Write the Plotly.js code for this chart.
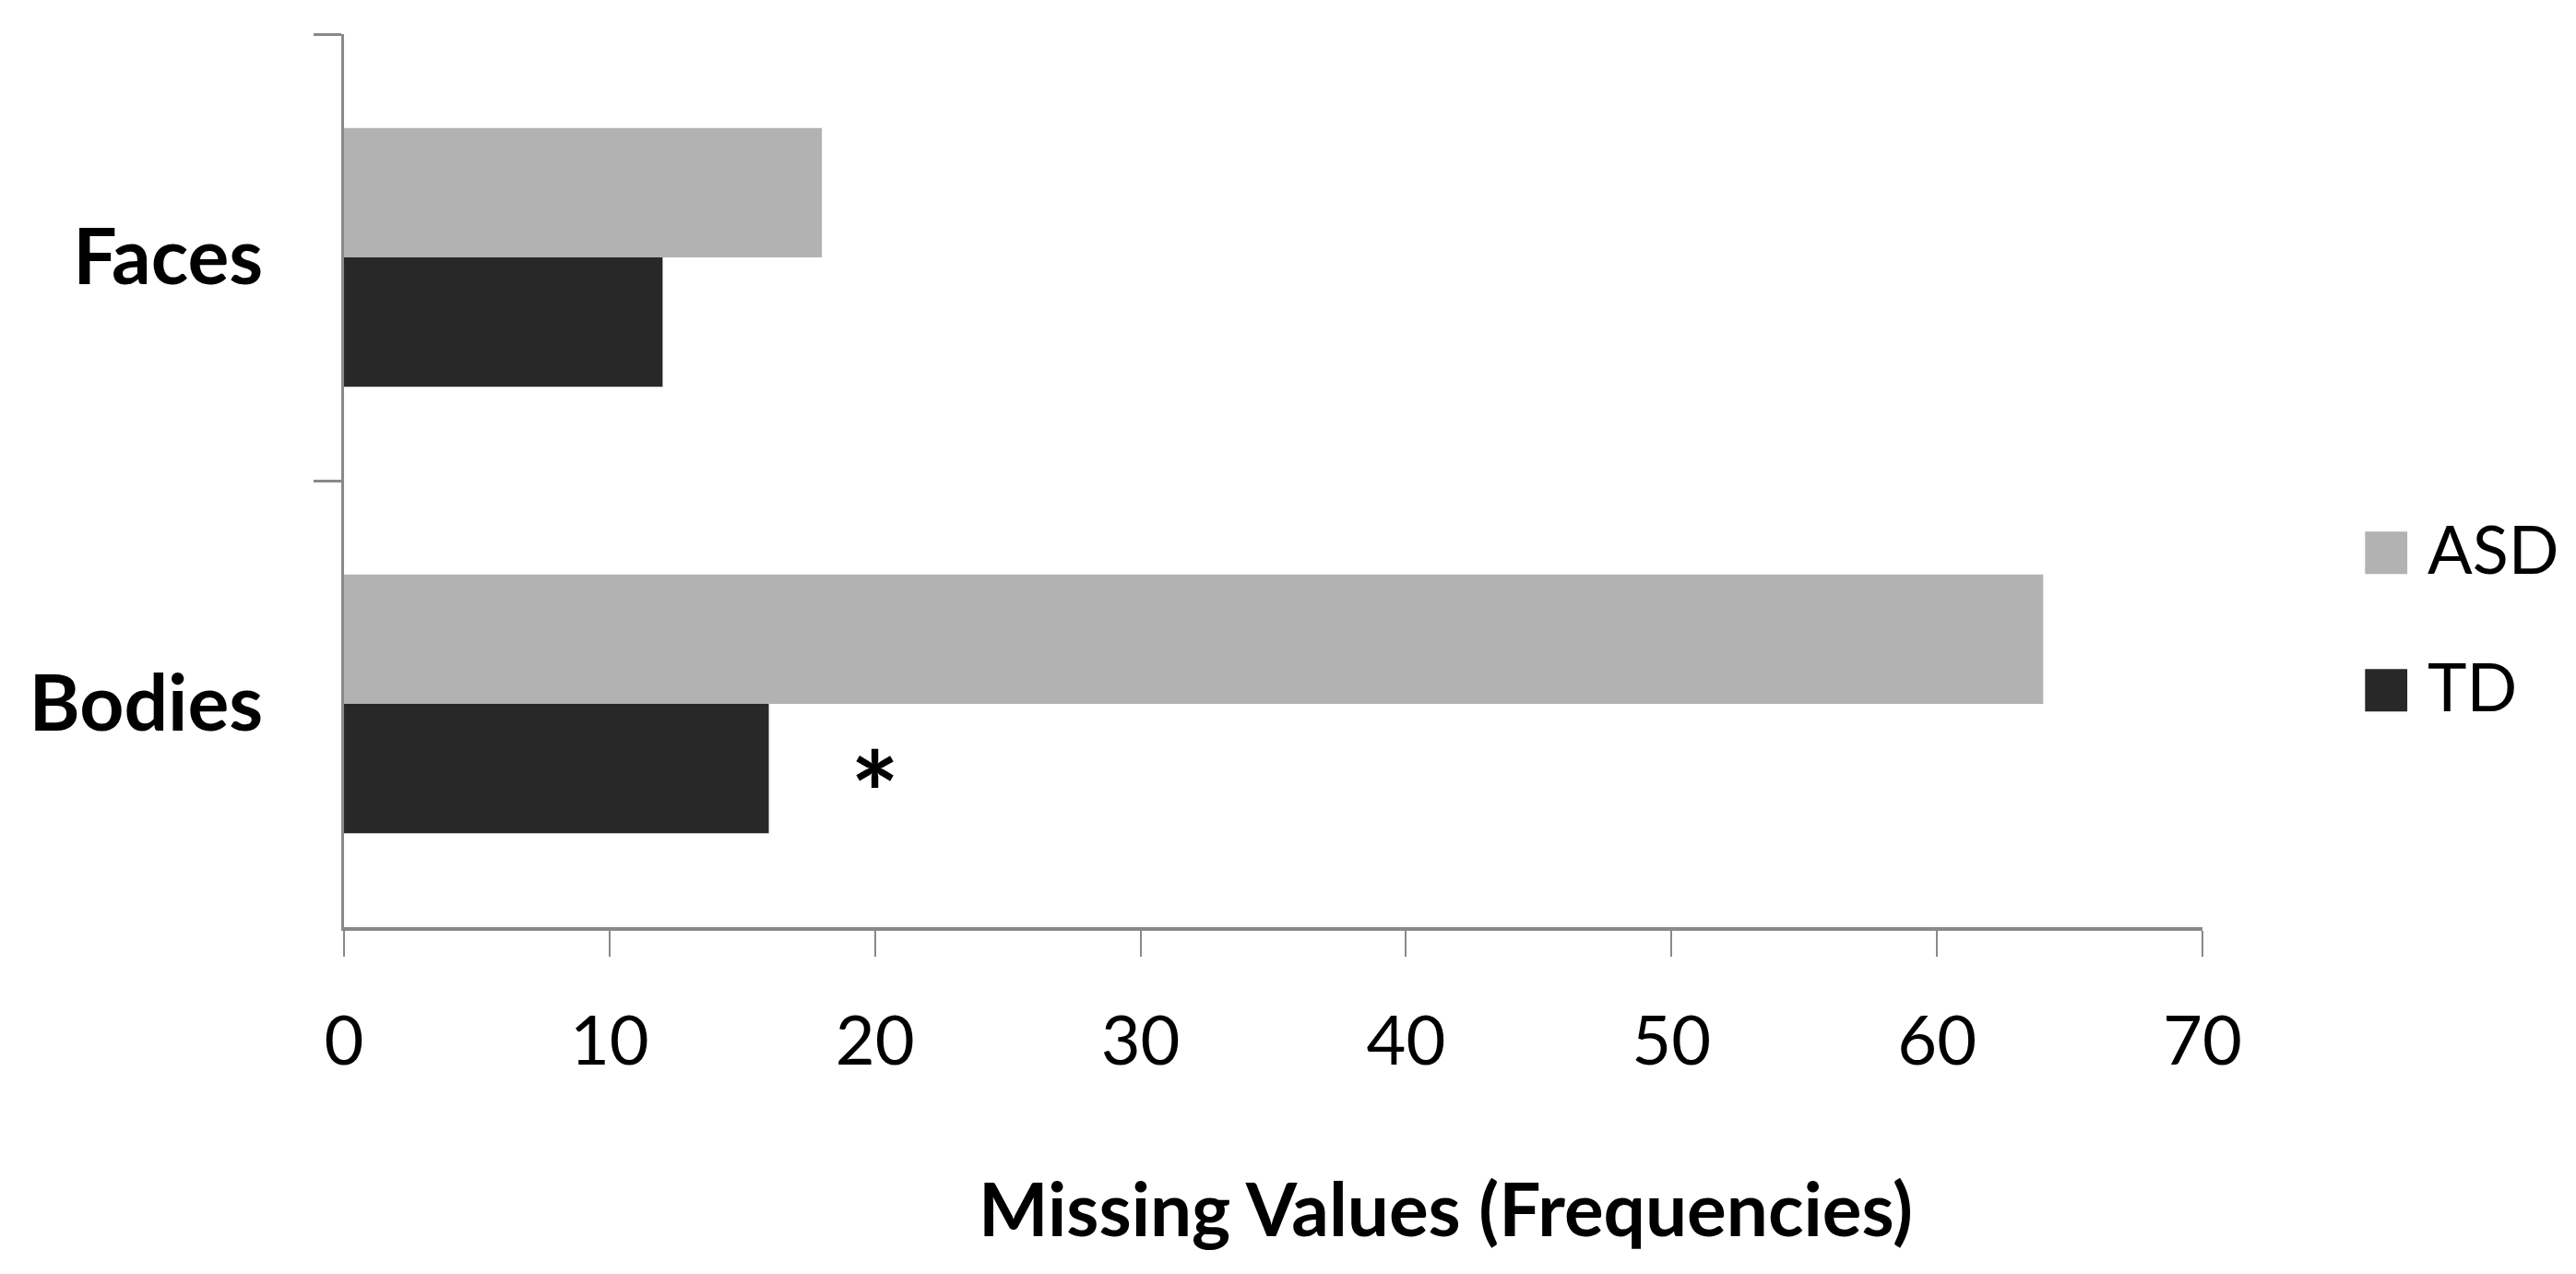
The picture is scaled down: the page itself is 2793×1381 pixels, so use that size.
<!DOCTYPE html>
<html>
<head>
<meta charset="utf-8">
<script src="https://cdn.plot.ly/plotly-3.0.1.min.js"></script>
<style>html,body{margin:0;padding:0;background:#fff;}#chart{width:2793px;height:1381px;}</style>
</head>
<body>
<div id="chart"></div>
<script>
// Data
const categories = ['Faces', 'Bodies'];
const seriesNames = ['ASD', 'TD'];
const asdValues = [18, 64];
const tdValues = [12, 16];
const seriesColors = ['#b2b2b2', '#282828'];
const xTickValues = [0, 10, 20, 30, 40, 50, 60, 70];
const xTitle = 'Missing Values (Frequencies)';
const significance = {category: 'Bodies', x: 20, text: '*'};

const FONT = 'Lato, "Open Sans", sans-serif';
const AXIS = '#898989';

const seriesValues = [asdValues, tdValues];
const traces = seriesNames.map((name, i) => ({
  type: 'bar',
  orientation: 'h',
  name: name,
  y: categories,
  x: seriesValues[i],
  marker: {color: seriesColors[i], line: {width: 0}},
  hoverinfo: 'x+y+name'
}));

const annotations = [];
// x-axis title (offset to the right as in the reference)
annotations.push({
  xref: 'paper', yref: 'paper', x: 0.5926, y: -0.314,
  xanchor: 'center', yanchor: 'middle', showarrow: false,
  text: '<b>' + xTitle + '</b>',
  font: {family: FONT, size: 80, color: '#000'}
});
// significance marker
annotations.push({
  xref: 'x', yref: 'y', x: significance.x, y: significance.category,
  xanchor: 'center', yanchor: 'middle', showarrow: false, yshift: -95,
  text: '<b>' + significance.text + '</b>',
  font: {family: FONT, size: 125, color: '#000'}
});
// legend (large swatches)
const legendY = [0.4246, 0.2707];
seriesNames.forEach((name, i) => {
  annotations.push({
    xref: 'paper', yref: 'paper', x: 1.0988, y: legendY[i],
    xanchor: 'center', yanchor: 'middle', showarrow: false,
    text: '■', font: {family: 'DejaVu Sans', size: 60, color: seriesColors[i]}
  });
  annotations.push({
    xref: 'paper', yref: 'paper', x: 1.1201, y: legendY[i],
    xanchor: 'left', yanchor: 'middle', showarrow: false,
    text: name, font: {family: FONT, size: 72, color: '#000'}
  });
});

const layout = {
  width: 2793, height: 1381,
  margin: {l: 373, r: 405, t: 37, b: 376, pad: 0},
  paper_bgcolor: '#fff', plot_bgcolor: '#fff',
  barmode: 'group',
  bargap: 0.42,
  bargroupgap: 0,
  showlegend: false,
  font: {family: FONT, color: '#000'},
  xaxis: {
    range: [0, 70],
    tickvals: xTickValues,
    ticktext: xTickValues.map(String),
    showgrid: false, zeroline: false,
    showline: true, linecolor: AXIS, linewidth: 4,
    ticks: 'outside', ticklen: 28, tickwidth: 2, tickcolor: AXIS,
    tickfont: {family: FONT, size: 74, color: '#000'},
    ticklabelstandoff: 28
  },
  yaxis: {
    type: 'category',
    categoryorder: 'array', categoryarray: categories,
    autorange: 'reversed',
    showgrid: false, zeroline: false,
    showline: true, linecolor: AXIS, linewidth: 3,
    ticks: 'outside', tickson: 'boundaries', ticklen: 30, tickwidth: 3, tickcolor: AXIS,
    tickfont: {family: FONT, size: 84, color: '#000', weight: 'bold'},
    ticklabelstandoff: 68
  },
  annotations: annotations
};

Plotly.newPlot('chart', traces, layout, {displayModeBar: false, staticPlot: true});
</script>
</body>
</html>
